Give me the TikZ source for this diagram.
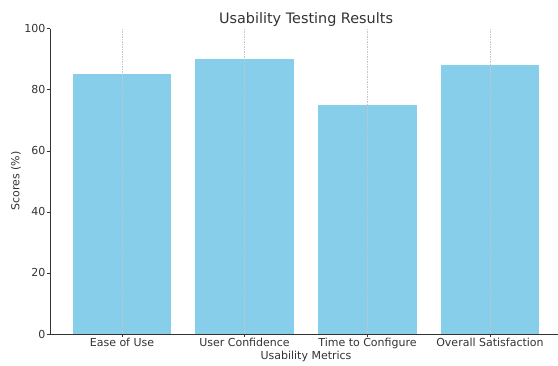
\documentclass[tikz,border=0pt]{standalone}
\usepackage{fontspec}
\setmainfont{DejaVu Sans}
\definecolor{barblue}{HTML}{87CEEB}
\definecolor{inkgray}{HTML}{333333}

\begin{document}
\begin{tikzpicture}[x=1pt, y=-1pt, every node/.style={text=inkgray, inner sep=0pt, font=\fontsize{11}{13}\selectfont},
    gridline/.style={gray!45, line width=0.5pt, dash pattern=on 1.5pt off 1pt},
    spine/.style={inkgray, line width=0.9pt}]
    \useasboundingbox (0,0) rectangle (558,366);
    % bars, grid and x ticks
    \foreach \cx/\val/\name [count=\i] in {122/85/Ease of Use, 244.5/90/User Confidence, 367.5/75/Time to Configure, 490/88/Overall Satisfaction} {
        \fill[barblue] (\cx-49.2,334) rectangle (\cx+49.2,334-3.053*\val);
        \draw[gridline] (\cx,28.7) -- (\cx,334);
        \draw[inkgray, line width=0.6pt] (\cx,334) -- (\cx,337.5);
        \node[anchor=base] (xlbl\i) at (\cx,346.3) {\name};
    }
    % y ticks
    \foreach \v in {0,20,...,100} {
        \draw[inkgray, line width=0.6pt] (46.5,334-3.053*\v) -- (50,334-3.053*\v);
        \node[anchor=east] (ylbl\v) at (45.5,334-3.053*\v) {\v};
    }
    \draw[spine] (50,28.7) -- (50,334) -- (558,334);
    \node[anchor=base, font=\fontsize{14.4}{17}\selectfont] (title) at (306,23.3) {Usability Testing Results};
    \node[anchor=base] (xname) at (306,360) {Usability Metrics};
    \node[anchor=base, rotate=90] (yname) at (19.3,181) {Scores (\%)};
\end{tikzpicture}
\end{document}
